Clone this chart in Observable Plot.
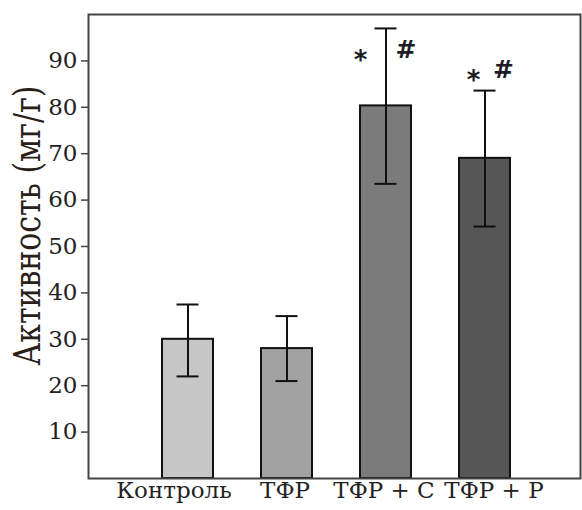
<!DOCTYPE html>
<html>
<head>
<meta charset="utf-8">
<script src="https://cdn.jsdelivr.net/npm/d3@7"></script>
<script src="https://cdn.jsdelivr.net/npm/@observablehq/plot@0.6"></script>
<style>
  html, body { margin: 0; padding: 0; background: #fff; }
  #chart { width: 582px; height: 510px; }
</style>
</head>
<body>
<div id="chart"></div>
<script>
// ---- data ----
const groups = ["Контроль", "ТФР", "ТФР + С", "ТФР + Р"];
const means = [30, 28, 80.3, 69];
const errLow = [22, 21, 63.5, 54.3];
const errHigh = [37.5, 35, 97, 83.6];
const yTicks = [10, 20, 30, 40, 50, 60, 70, 80, 90];
const yTitle = "Активность (мг/г)";
const sigGroups = ["ТФР + С", "ТФР + Р"];
const sigY = [92.3, 88];
const barFills = ["#c6c6c6", "#a2a2a2", "#7b7b7b", "#565656"];

const data = groups.map((g, i) => ({group: g, mean: means[i], low: errLow[i], high: errHigh[i]}));
const sig = sigGroups.map((g, i) => ({group: g, y: sigY[i]}));

// label / annotation offsets (style)
const starDx = [-25.5, -11.5];
const hashDx = [20, 18.5];
const labelDx = [-14, -2, -2, 9];

const sigMarks = sig.flatMap((d, i) => [
  Plot.text([d], {x: "group", y: "y", text: () => "*", dx: starDx[i], dy: 10,
    fontSize: 26, fontWeight: "bold", fontFamily: "DejaVu Sans", fill: "#1c1c24"}),
  Plot.text([d], {x: "group", y: "y", text: () => "#", dx: hashDx[i],
    fontSize: 25, fontWeight: "bold", fontFamily: "DejaVu Sans", fill: "#1c1c24"})
]);

const labelMarks = groups.map((g, i) =>
  Plot.text([g], {x: d => d, text: d => d, frameAnchor: "bottom", dx: labelDx[i], dy: 19,
    fontSize: 23, fontFamily: "DejaVu Serif", fill: "#222"})
);

const chart = Plot.plot({
  width: 582,
  height: 510,
  marginLeft: 88,
  marginRight: 2,
  marginTop: 14,
  marginBottom: 32,
  style: {fontFamily: "DejaVu Serif", background: "#fff", color: "#222"},
  x: {type: "band", domain: groups, range: [137.7, 534], padding: 0, axis: null},
  y: {domain: [0, 100]},
  color: {type: "ordinal", domain: groups, range: barFills},
  marks: [
    Plot.barY(data, {x: "group", y: "mean", fill: "group", stroke: "#111", strokeWidth: 2, insetLeft: 24, insetRight: 24}),
    Plot.ruleX(data, {x: "group", y1: "low", y2: "high", stroke: "#111", strokeWidth: 2}),
    Plot.tickY(data, {x: "group", y: "high", stroke: "#111", strokeWidth: 2, insetLeft: 38.5, insetRight: 38.5}),
    Plot.tickY(data, {x: "group", y: "low", stroke: "#111", strokeWidth: 2, insetLeft: 38.5, insetRight: 38.5}),
    ...sigMarks,
    Plot.frame({stroke: "#444", strokeWidth: 2}),
    Plot.axisY({ticks: yTicks, tickSize: 7, tickPadding: 4, fontSize: 23, label: null, stroke: "#444", strokeWidth: 1.5}),
    ...labelMarks,
    Plot.text([yTitle], {text: d => d, frameAnchor: "left", textAnchor: "middle", rotate: -90, dx: -60.5, dy: -21,
      fontSize: 37, fontFamily: "DejaVu Serif", fill: "#2a201a"})
  ]
});

d3.select(chart).selectAll("text")
  .filter(function() { return this.textContent === yTitle; })
  .attr("textLength", 280)
  .attr("lengthAdjust", "spacingAndGlyphs");

document.getElementById("chart").appendChild(chart);
</script>
</body>
</html>
